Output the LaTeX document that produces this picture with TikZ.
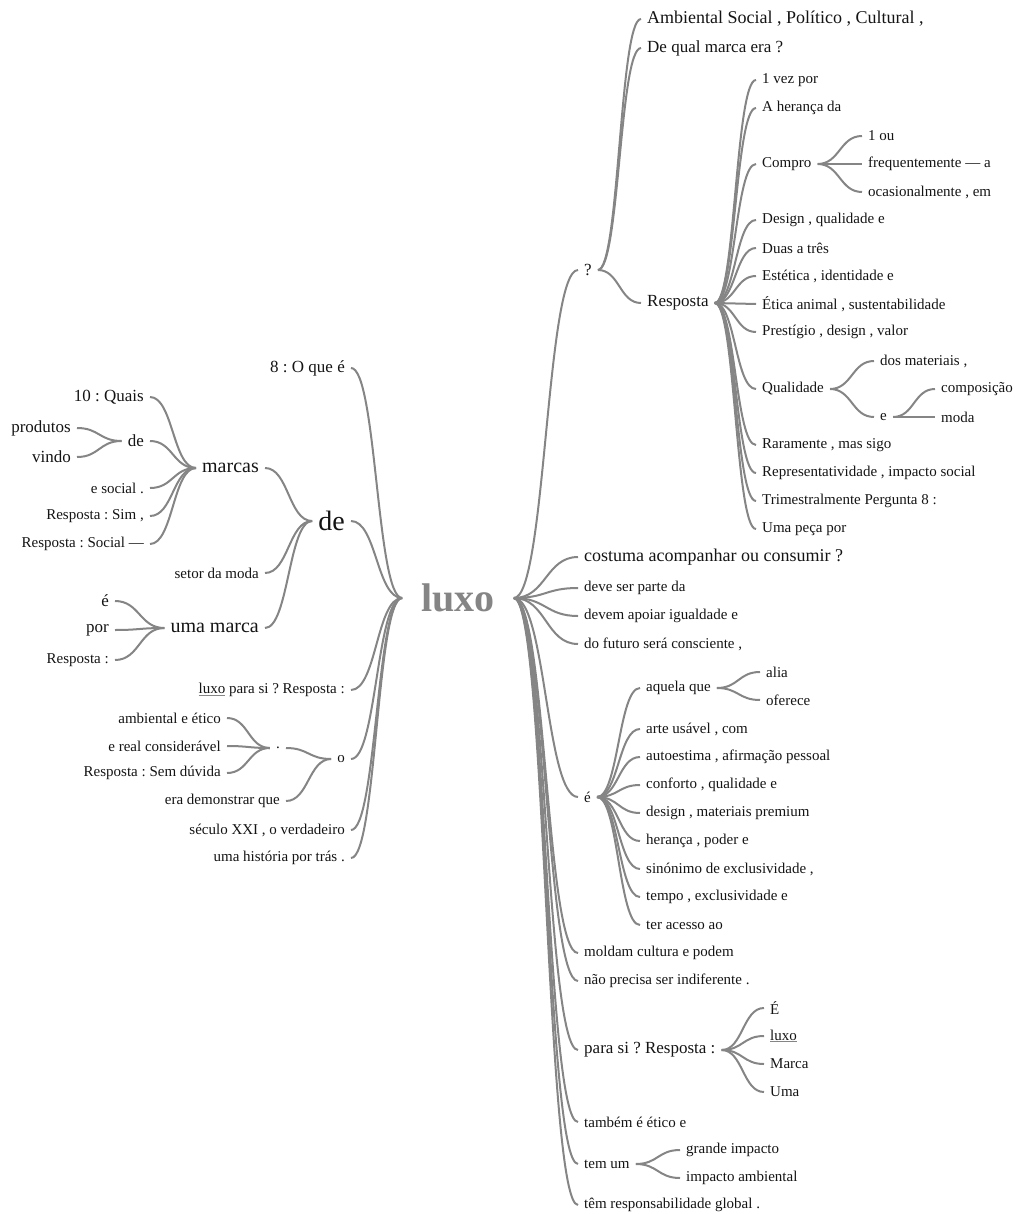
\documentclass[tikz,border=0pt]{standalone}
\usepackage{fontspec}
\setmainfont{Liberation Serif}
\usepackage{tikz}
\usetikzlibrary{calc}
\definecolor{ink}{HTML}{141414}
\definecolor{twig}{HTML}{858585}
\newcommand{\ulword}[1]{{\color{twig}\underline{\color{ink}#1}}}
\frenchspacing
\tikzset{
  word/.style={text=ink, inner xsep=6pt, inner ysep=2pt},
  sm/.style={word, font=\fontsize{15}{18}\selectfont},
  md/.style={word, font=\fontsize{17}{20}\selectfont},
  mdl/.style={word, font=\fontsize{18}{21}\selectfont},
  lg/.style={word, font=\fontsize{20}{24}\selectfont},
  xl/.style={word, font=\fontsize{28}{32}\selectfont},
  root/.style={text=twig, inner xsep=19pt, font=\bfseries\fontsize{40}{44}\selectfont},
  branch/.style={draw=twig, line width=2pt,
    to path={let \p1=(\tikztostart), \p2=(\tikztotarget) in
      .. controls ({0.5*\x1+0.5*\x2},\y1) and ({0.5*\x1+0.5*\x2},\y2) .. (\tikztotarget)}}
}
\begin{document}
\begin{tikzpicture}[x=1pt,y=-1pt]
\useasboundingbox (0,0) rectangle (1017,1214);
\node[root] (luxo) at (458,598) {luxo};

% left side
\node[md, anchor=east] (oque) at (351,368) {8 : O que é};
\node[xl, anchor=east] (de) at (351,521) {de};
\node[sm, anchor=east] (luxopara) at (351,690) {\ulword{luxo} para si ? Resposta :};
\node[sm, anchor=east] (o) at (351,759) {o};
\node[sm, anchor=east] (seculo) at (351,830) {século XXI , o verdadeiro};
\node[sm, anchor=east] (historia) at (351,858) {uma história por trás .};

\node[lg, anchor=east] (marcas) at (265,468) {marcas};
\node[sm, anchor=east] (setor) at (265,573) {setor da moda};
\node[lg, anchor=east] (umamarca) at (265,628) {uma marca};

\node[md, anchor=east] (quais) at (150,397) {10 : Quais};
\node[md, anchor=east] (dede) at (150,441) {de};
\node[sm, anchor=east] (esocial) at (150,488) {e social .};
\node[sm, anchor=east] (sim) at (150,516) {Resposta : Sim ,};
\node[sm, anchor=east] (social) at (150,544) {Resposta : Social —};

\node[md, anchor=east] (produtos) at (77,428) {produtos};
\node[md, anchor=east] (vindo) at (77,457) {vindo};

\node[md, anchor=east] (eum) at (115,601) {é};
\node[md, anchor=east] (por) at (115,630) {por};
\node[sm, anchor=east] (respum) at (115,660) {Resposta :};

\node[sm, anchor=east] (ponto) at (286,748) {.};
\node[sm, anchor=east] (demonstrar) at (286,801) {era demonstrar que};

\node[sm, anchor=east] (ambiental) at (227,718) {ambiental e ético};
\node[sm, anchor=east] (real) at (227,746) {e real considerável};
\node[sm, anchor=east] (semduvida) at (227,773) {Resposta : Sem dúvida};

% right side
\node[md, anchor=west] (q) at (578,270) {?};
\node[mdl, anchor=west] (costuma) at (578,557) {costuma acompanhar ou consumir ?};
\node[sm, anchor=west] (parte) at (578,588) {deve ser parte da};
\node[sm, anchor=west] (igualdade) at (578,616) {devem apoiar igualdade e};
\node[sm, anchor=west] (futuro) at (578,644) {do futuro será consciente ,};
\node[sm, anchor=west] (edois) at (578,797) {é};
\node[sm, anchor=west] (moldam) at (578,953) {moldam cultura e podem};
\node[sm, anchor=west] (naoprecisa) at (578,981) {não precisa ser indiferente .};
\node[md, anchor=west] (parasi) at (578,1050) {para si ? Resposta :};
\node[sm, anchor=west] (tambem) at (578,1122) {também é ético e};
\node[sm, anchor=west] (temum) at (578,1164) {tem um};
\node[sm, anchor=west] (global) at (578,1205) {têm responsabilidade global .};

\node[mdl, anchor=west] (amb) at (641,19) {Ambiental Social , Político , Cultural ,};
\node[md, anchor=west] (dequal) at (641,48) {De qual marca era ?};
\node[md, anchor=west] (resposta) at (641,303) {Resposta};

\node[sm, anchor=west] (vez) at (756,80) {1 vez por};
\node[sm, anchor=west] (heranca) at (756,108) {A herança da};
\node[sm, anchor=west] (compro) at (756,164) {Compro};
\node[sm, anchor=west] (design) at (756,220) {Design , qualidade e};
\node[sm, anchor=west] (duas) at (756,248) {Duas a três};
\node[sm, anchor=west] (estetica) at (756,276) {Estética , identidade e};
\node[sm, anchor=west] (etica) at (756,304) {Ética animal , sustentabilidade};
\node[sm, anchor=west] (prestigio) at (756,332) {Prestígio , design , valor};
\node[sm, anchor=west] (qualidade) at (756,389) {Qualidade};
\node[sm, anchor=west] (raramente) at (756,445) {Raramente , mas sigo};
\node[sm, anchor=west] (repres) at (756,473) {Representatividade , impacto social};
\node[sm, anchor=west] (trimestral) at (756,501) {Trimestralmente Pergunta 8 :};
\node[sm, anchor=west] (peca) at (756,529) {Uma peça por};

\node[sm, anchor=west] (ou) at (862,136) {1 ou};
\node[sm, anchor=west] (freq) at (862,164) {frequentemente — a};
\node[sm, anchor=west] (ocas) at (862,192) {ocasionalmente , em};

\node[sm, anchor=west] (materiais) at (874,361) {dos materiais ,};
\node[sm, anchor=west] (ee) at (874,417) {e};
\node[sm, anchor=west] (composicao) at (935,389) {composição};
\node[sm, anchor=west] (moda) at (935,417) {moda};

\node[sm, anchor=west] (aquela) at (640,688) {aquela que};
\node[sm, anchor=west] (arte) at (640,729) {arte usável , com};
\node[sm, anchor=west] (autoestima) at (640,757) {autoestima , afirmação pessoal};
\node[sm, anchor=west] (conforto) at (640,785) {conforto , qualidade e};
\node[sm, anchor=west] (designm) at (640,813) {design , materiais premium};
\node[sm, anchor=west] (herancap) at (640,841) {herança , poder e};
\node[sm, anchor=west] (sinonimo) at (640,869) {sinónimo de exclusividade ,};
\node[sm, anchor=west] (tempo) at (640,897) {tempo , exclusividade e};
\node[sm, anchor=west] (acesso) at (640,925) {ter acesso ao};

\node[sm, anchor=west] (alia) at (760,672) {alia};
\node[sm, anchor=west] (oferece) at (760,700) {oferece};

\node[sm, anchor=west] (emaj) at (764,1008) {É};
\node[sm, anchor=west] (luxou) at (764,1036) {\ulword{luxo}};
\node[sm, anchor=west] (marca) at (764,1064) {Marca};
\node[sm, anchor=west] (uma) at (764,1092) {Uma};

\node[sm, anchor=west] (grande) at (680,1150) {grande impacto};
\node[sm, anchor=west] (impacto) at (680,1178) {impacto ambiental};

% connectors, left
\draw[branch] (luxo.west) to (oque.east);
\draw[branch] (luxo.west) to (de.east);
\draw[branch] (luxo.west) to (luxopara.east);
\draw[branch] (luxo.west) to (o.east);
\draw[branch] (luxo.west) to (seculo.east);
\draw[branch] (luxo.west) to (historia.east);
\draw[branch] (de.west) to (marcas.east);
\draw[branch] (de.west) to (setor.east);
\draw[branch] (de.west) to (umamarca.east);
\draw[branch] (marcas.west) to (quais.east);
\draw[branch] (marcas.west) to (dede.east);
\draw[branch] (marcas.west) to (esocial.east);
\draw[branch] (marcas.west) to (sim.east);
\draw[branch] (marcas.west) to (social.east);
\draw[branch] (dede.west) to (produtos.east);
\draw[branch] (dede.west) to (vindo.east);
\draw[branch] (umamarca.west) to (eum.east);
\draw[branch] (umamarca.west) to (por.east);
\draw[branch] (umamarca.west) to (respum.east);
\draw[branch] (o.west) to (ponto.east);
\draw[branch] (o.west) to (demonstrar.east);
\draw[branch] (ponto.west) to (ambiental.east);
\draw[branch] (ponto.west) to (real.east);
\draw[branch] (ponto.west) to (semduvida.east);

% connectors, right
\draw[branch] (luxo.east) to (q.west);
\draw[branch] (luxo.east) to (costuma.west);
\draw[branch] (luxo.east) to (parte.west);
\draw[branch] (luxo.east) to (igualdade.west);
\draw[branch] (luxo.east) to (futuro.west);
\draw[branch] (luxo.east) to (edois.west);
\draw[branch] (luxo.east) to (moldam.west);
\draw[branch] (luxo.east) to (naoprecisa.west);
\draw[branch] (luxo.east) to (parasi.west);
\draw[branch] (luxo.east) to (tambem.west);
\draw[branch] (luxo.east) to (temum.west);
\draw[branch] (luxo.east) to (global.west);
\draw[branch] (q.east) to (amb.west);
\draw[branch] (q.east) to (dequal.west);
\draw[branch] (q.east) to (resposta.west);
\draw[branch] (resposta.east) to (vez.west);
\draw[branch] (resposta.east) to (heranca.west);
\draw[branch] (resposta.east) to (compro.west);
\draw[branch] (resposta.east) to (design.west);
\draw[branch] (resposta.east) to (duas.west);
\draw[branch] (resposta.east) to (estetica.west);
\draw[branch] (resposta.east) to (etica.west);
\draw[branch] (resposta.east) to (prestigio.west);
\draw[branch] (resposta.east) to (qualidade.west);
\draw[branch] (resposta.east) to (raramente.west);
\draw[branch] (resposta.east) to (repres.west);
\draw[branch] (resposta.east) to (trimestral.west);
\draw[branch] (resposta.east) to (peca.west);
\draw[branch] (compro.east) to (ou.west);
\draw[branch] (compro.east) to (freq.west);
\draw[branch] (compro.east) to (ocas.west);
\draw[branch] (qualidade.east) to (materiais.west);
\draw[branch] (qualidade.east) to (ee.west);
\draw[branch] (ee.east) to (composicao.west);
\draw[branch] (ee.east) to (moda.west);
\draw[branch] (edois.east) to (aquela.west);
\draw[branch] (edois.east) to (arte.west);
\draw[branch] (edois.east) to (autoestima.west);
\draw[branch] (edois.east) to (conforto.west);
\draw[branch] (edois.east) to (designm.west);
\draw[branch] (edois.east) to (herancap.west);
\draw[branch] (edois.east) to (sinonimo.west);
\draw[branch] (edois.east) to (tempo.west);
\draw[branch] (edois.east) to (acesso.west);
\draw[branch] (aquela.east) to (alia.west);
\draw[branch] (aquela.east) to (oferece.west);
\draw[branch] (parasi.east) to (emaj.west);
\draw[branch] (parasi.east) to (luxou.west);
\draw[branch] (parasi.east) to (marca.west);
\draw[branch] (parasi.east) to (uma.west);
\draw[branch] (temum.east) to (grande.west);
\draw[branch] (temum.east) to (impacto.west);
\end{tikzpicture}
\end{document}
